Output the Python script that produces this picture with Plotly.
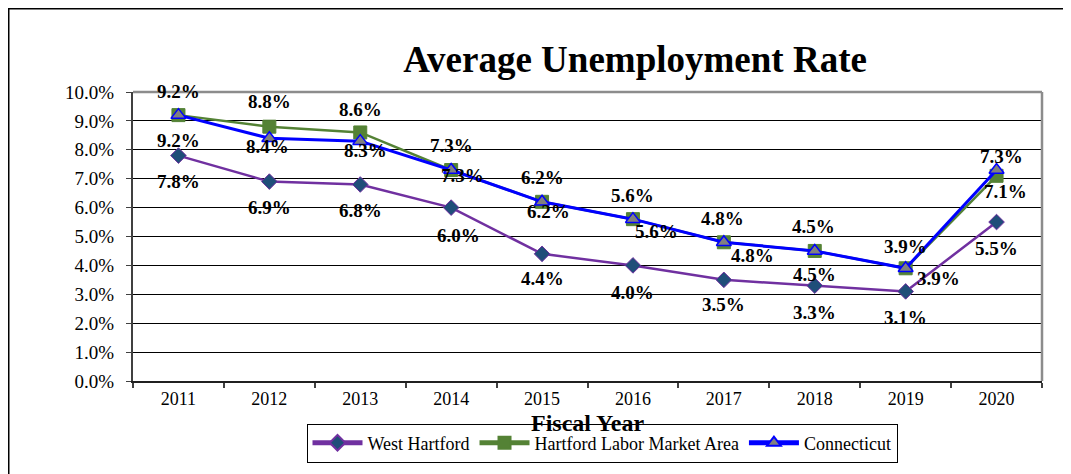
import plotly.graph_objects as go

years = ["2011", "2012", "2013", "2014", "2015", "2016", "2017", "2018", "2019", "2020"]
west_hartford = [7.8, 6.9, 6.8, 6.0, 4.4, 4.0, 3.5, 3.3, 3.1, 5.5]
hartford_lma = [9.2, 8.8, 8.6, 7.3, 6.2, 5.6, 4.8, 4.5, 3.9, 7.1]
connecticut = [9.2, 8.4, 8.3, 7.3, 6.2, 5.6, 4.8, 4.5, 3.9, 7.3]

# label offsets in pixels (dx right, dy down)
wh_dx = [0, 0, 0, 7, 0, 0, 0, 0, 0, 0]
wh_dy = [26, 26, 26, 28, 25, 27, 25, 27, 26, 26]
hl_dx = [0, 0, 0, 0, 0, 0, -1, -1, 0, 9]
hl_dy = [-24, -25, -23, -25, -24, -24, -24, -24, -22, 16]
ct_dx = [0, -2, 5, 11, 6, 24, 29, 0, 33, 5]
ct_dy = [25, 8, 9, 5, 10, 12, 13, 24, 10, -14]

FONT = "Liberation Serif"
W, H = 1071, 474
OFF = 8  # page body margin
PX0, PX1, PY0, PY1 = 133 - OFF, 1042 - OFF, 92 - OFF, 381 - OFF  # plot area in figure px
pw, ph = PX1 - PX0, PY1 - PY0


def px(x):
    return (x - OFF - PX0) / pw


def py(y):
    return (PY1 - (y - OFF)) / ph


fig = go.Figure()
fig.add_trace(go.Scatter(
    x=years, y=west_hartford, name="West Hartford", mode="lines+markers",
    line=dict(color="#7030A0", width=2.5),
    marker=dict(symbol="diamond", size=12, color="#1F4E79", line=dict(color="#7030A0", width=1)),
))
fig.add_trace(go.Scatter(
    x=years, y=hartford_lma, name="Hartford Labor Market Area", mode="lines+markers",
    line=dict(color="#548235", width=2.5),
    marker=dict(symbol="square", size=13, color="#548235", line=dict(color="#548235", width=1)),
))
fig.add_trace(go.Scatter(
    x=years, y=connecticut, name="Connecticut", mode="lines+markers",
    line=dict(color="#0000FF", width=3),
    marker=dict(symbol="triangle-up", size=13, color="#808080", line=dict(color="#0000FF", width=1.5)),
))

annotations = []
for vals, dxs, dys in [(hartford_lma, hl_dx, hl_dy), (connecticut, ct_dx, ct_dy), (west_hartford, wh_dx, wh_dy)]:
    for i, (v, dx, dy) in enumerate(zip(vals, dxs, dys)):
        annotations.append(dict(
            x=i, y=v, xref="x", yref="y", text="<b>%.1f%%</b>" % v, showarrow=False,
            xshift=dx, yshift=-dy, font=dict(family=FONT, size=19, color="black"),
        ))

annotations.append(dict(
    x=0.5, y=py(423), xref="paper", yref="paper", text="<b>Fiscal Year</b>",
    showarrow=False, yanchor="middle", font=dict(family=FONT, size=24, color="black"),
))

shapes = [
    dict(type="rect", xref="paper", yref="paper",
         x0=px(8.5), x1=px(W + 20),
         y0=py(H + 20), y1=py(8.5),
         line=dict(color="black", width=2), fillcolor="rgba(0,0,0,0)", layer="below"),
    dict(type="line", xref="paper", yref="paper", x0=0, x1=1, y0=1, y1=1,
         line=dict(color="#8C8C8C", width=2.5)),
    dict(type="line", xref="paper", yref="paper", x0=1, x1=1, y0=0, y1=1,
         line=dict(color="#8C8C8C", width=2.5)),
]

fig.update_layout(
    width=W, height=H,
    margin=dict(l=PX0, r=W - PX1, t=PY0, b=H - PY1, autoexpand=False),
    paper_bgcolor="white", plot_bgcolor="white",
    title=dict(text="<b>Average Unemployment Rate</b>", x=(635 - OFF) / W, xref="container", xanchor="center",
               y=1 - (59 - OFF) / H, yref="container", yanchor="middle",
               font=dict(family=FONT, size=37, color="black")),
    font=dict(family=FONT, color="black"),
    showlegend=True,
    legend=dict(orientation="h", x=px(602), xanchor="center",
                y=py(443), yanchor="middle",
                bordercolor="black", borderwidth=1, bgcolor="white",
                font=dict(family=FONT, size=18, color="black"),
                itemwidth=50, itemsizing="constant", tracegroupgap=0),
    annotations=annotations,
    shapes=shapes,
)
fig.update_xaxes(
    type="category", range=[-0.5, 9.5], tickson="boundaries", ticks="outside", ticklen=5,
    tickcolor="#404040", tickwidth=1.5, showline=True, linecolor="#202020", linewidth=2,
    showgrid=False, tickfont=dict(family=FONT, size=18, color="black"), zeroline=False,
    automargin=False,
)
fig.update_yaxes(
    range=[0, 10], dtick=1, tickformat=".1f", ticksuffix="%", ticks="outside", ticklen=5,
    tickcolor="#404040", showline=True, linecolor="#404040", linewidth=2,
    showgrid=True, gridcolor="black", gridwidth=1, zeroline=False, ticklabelstandoff=8,
    tickfont=dict(family=FONT, size=19, color="black"), automargin=False,
)

fig.write_html("out.html")
